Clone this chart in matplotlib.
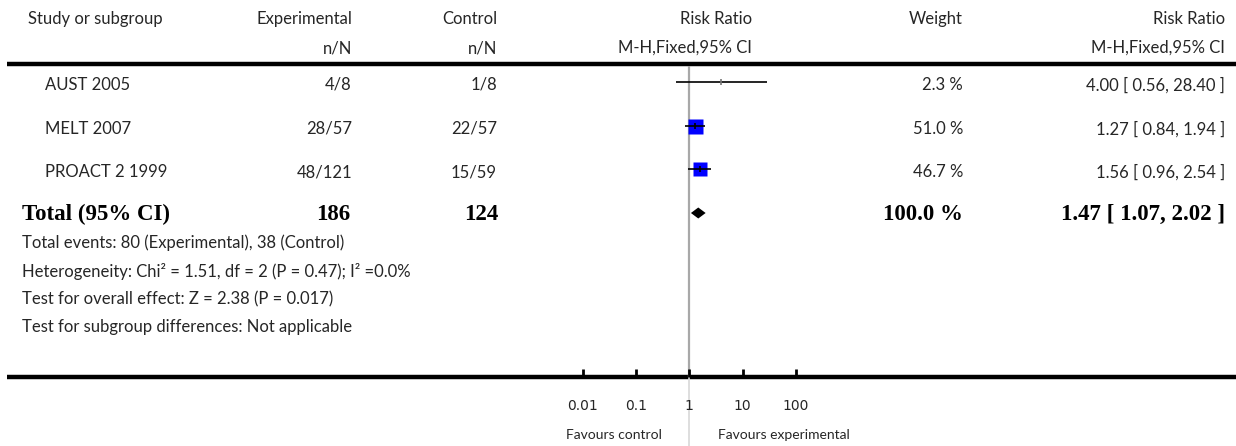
import matplotlib
matplotlib.use("Agg")
import matplotlib.pyplot as plt
import numpy as np

# ---------------- data ----------------
studies = ["AUST 2005", "MELT 2007", "PROACT 2 1999"]
exp_events = [4, 28, 48]
exp_total = [8, 57, 121]
ctrl_events = [1, 22, 15]
ctrl_total = [8, 57, 59]
rr = [4.00, 1.27, 1.56]
rr_lo = [0.56, 0.84, 0.96]
rr_hi = [28.40, 1.94, 2.54]
weights = [2.3, 51.0, 46.7]

total_exp = 186
total_ctrl = 124
total_rr = 1.47
total_lo = 1.07
total_hi = 2.02
total_weight = 100.0

footnotes = [
    "Total events: 80 (Experimental), 38 (Control)",
    "Heterogeneity: Chi² = 1.51, df = 2 (P = 0.47); I² =0.0%",
    "Test for overall effect: Z = 2.38 (P = 0.017)",
    "Test for subgroup differences: Not applicable",
]
tick_vals = [0.01, 0.1, 1, 10, 100]
tick_labels = ["0.01", "0.1", "1", "10", "100"]

# ---------------- layout ----------------
W, H = 1236, 446
fig = plt.figure(figsize=(W / 100, H / 100), dpi=100)
base = fig.add_axes([0, 0, 1, 1])
base.set_xlim(0, W)
base.set_ylim(H, 0)
base.axis("off")

SANS = "Lato"
SERIF = "Liberation Serif"
TC = "#262626"
FS = 12
BFS = 16.5

row_y = [82, 126, 169]
total_y = 213

def t(x, y, s, ha="left", **kw):
    base.text(x, y, s, family=SANS, fontsize=FS, color=TC, ha=ha, va="center", **kw)

def tb(x, y, s, ha="left"):
    base.text(x, y, s, family=SERIF, fontweight="bold", fontsize=BFS, color="black", ha=ha, va="center")

# headers
hdr1, hdr2 = 19, 48
t(28, hdr1, "Study or subgroup")
t(352, hdr1, "Experimental", "right")
t(352, hdr2, "n/N", "right")
t(497, hdr1, "Control", "right")
t(497, hdr2, "n/N", "right")
t(752, hdr1, "Risk Ratio", "right")
t(752, hdr2, "M-H,Fixed,95% CI", "right")
t(963, hdr1, "Weight", "right")
t(1225, hdr1, "Risk Ratio", "right")
t(1225, hdr2, "M-H,Fixed,95% CI", "right")

# rules
base.plot([7, W], [64, 64], color="black", lw=3.2, solid_capstyle="butt")
base.plot([7, W], [377, 377], color="black", lw=3.2, solid_capstyle="butt")

# study rows
for i, name in enumerate(studies):
    y = row_y[i] + 3
    t(45, y, name)
    t(352, y, f"{exp_events[i]}/{exp_total[i]}", "right")
    t(497, y, f"{ctrl_events[i]}/{ctrl_total[i]}", "right")
    t(963, y, f"{weights[i]:.1f} %", "right")
    t(1225, y, f"{rr[i]:.2f} [ {rr_lo[i]:.2f}, {rr_hi[i]:.2f} ]", "right")

# total row
ty = total_y + 1
tb(22, ty, "Total (95% CI)")
tb(350, ty, f"{total_exp}", "right")
tb(498, ty, f"{total_ctrl}", "right")
tb(963, ty, f"{total_weight:.1f} %", "right")
tb(1225, ty, f"{total_rr:.2f} [ {total_lo:.2f}, {total_hi:.2f} ]", "right")

# footnotes
foot_y = [243, 271, 299, 327]
for fy, txt in zip(foot_y, footnotes):
    t(22, fy, txt)

# ---------------- forest axes ----------------
x0_px, x1_px = 582.7, 796.0
fa = fig.add_axes([x0_px / W, 0, (x1_px - x0_px) / W, 1])
fa.set_xscale("log")
fa.set_xlim(tick_vals[0], tick_vals[-1])
fa.set_ylim(H, 0)
fa.patch.set_alpha(0)
for s in ["top", "left", "right", "bottom"]:
    fa.spines[s].set_visible(False)
fa.set_yticks([])
fa.set_xticks(tick_vals)
fa.set_xticklabels(tick_labels, family=SANS, fontsize=9, color=TC)
fa.xaxis.set_tick_params(which="minor", length=0)
fa.xaxis.set_ticks_position("bottom")
fa.spines["bottom"].set_position(("data", 377))
fa.tick_params(axis="x", direction="in", length=6, width=2, pad=16, colors="black", labelcolor=TC)

# null line
fa.vlines(1, 66, 377, color="#a8a8a8", lw=1.6, zorder=1)
fa.vlines(1, 377, H, color="#d8d8d8", lw=1.2, zorder=1)

# squares and CIs
for i in range(len(studies)):
    side_px = 15.0 * np.sqrt(weights[i] / 51.0)
    if weights[i] > 5:
        fa.plot([rr[i]], [row_y[i]], marker="s", ms=side_px * 0.72, color="#0000ff",
                mec="none", ls="none", zorder=2)
    fa.hlines(row_y[i], rr_lo[i], rr_hi[i], color="black", lw=1.2, zorder=3)
    fa.plot([rr[i]], [row_y[i]], marker="|", ms=4, mew=1.2,
            color="#777777" if weights[i] <= 5 else "black", ls="none", zorder=4)

# diamond
fa.fill([total_lo, total_rr, total_hi, total_rr],
        [total_y, total_y - 5.5, total_y, total_y + 5.5],
        color="black", lw=0, zorder=3)

# favours labels
base.text(614, 435, "Favours control", family=SANS, fontsize=10, color=TC, ha="center", va="center")
base.text(784, 435, "Favours experimental", family=SANS, fontsize=10, color=TC, ha="center", va="center")

fig.savefig("out.png", dpi=100)
